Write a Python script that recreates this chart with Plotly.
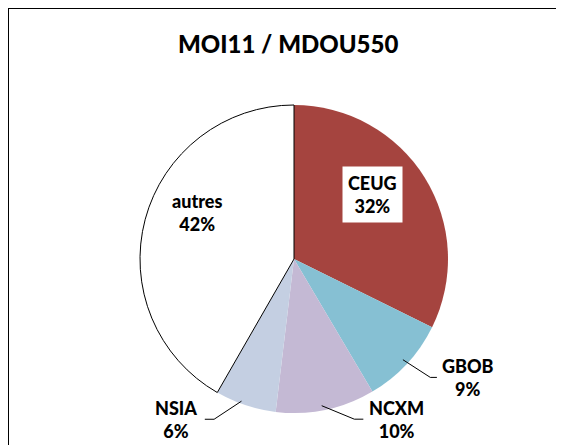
import math
import plotly.graph_objects as go

# ---- data ----
title_text = "MOI11 / MDOU550"
labels = ["CEUG", "GBOB", "NCXM", "NSIA", "autres"]
values = [32.3, 9.2, 10.4, 6.4, 41.7]
colors = ["#A5443F", "#86C0D3", "#C4B9D4", "#C4CFE2", "#FFFFFF"]

# ---- geometry (reference pixel coords; page body has an 8px margin) ----
OFF = 8
W, H = 564 - OFF, 445 - OFF
ML, MR, MT, MB = 140 - OFF, 124 - OFF, 105 - OFF, 40 - OFF
R = (W - ML - MR) / 2
CX, CY = 290, 255  # pie centre in reference pixels
FONT = "Lato"
FS = 18
WEIGHT = 900


def px(x):
    return (x - OFF - ML) / (W - ML - MR)


def py(y):
    return (H - MB - (y - OFF)) / (H - MT - MB)


def polar(angle_deg, rf):
    a = math.radians(angle_deg)
    return CX + R * rf * math.sin(a), CY - R * rf * math.cos(a)


# inside: (angle, radius factor, white box)
# outside: (elbow angle, elbow radius factor, horizontal segment, text-centre offset)
placement = {
    "CEUG": ("in", 53.6, 0.663, True),
    "GBOB": ("out", 131.1, 1.209, 6.6, 31),
    "NCXM": ("out", 158.6, 1.145, 9.0, 33.3),
    "NSIA": ("out", 204.8, 1.175, -9.3, -28.7),
    "autres": ("in", 294.3, 0.665, False),
}

total = sum(values)
fig = go.Figure(
    go.Pie(
        labels=labels,
        values=values,
        sort=False,
        direction="clockwise",
        rotation=0,
        marker=dict(
            colors=colors,
            line=dict(color=["rgba(0,0,0,0)"] * 4 + ["#000000"], width=[0, 0, 0, 0, 1]),
        ),
        textinfo="none",
        hoverinfo="label+percent",
        showlegend=False,
    )
)

annotations = []
shapes = []
cum = 0.0
for lab, v in zip(labels, values):
    start = cum / total * 360
    cum += v
    end = cum / total * 360
    mid = (start + end) / 2
    pct = round(v / total * 100)
    txt = f"{lab}<br>{pct}%"
    p = placement[lab]
    if p[0] == "in":
        _, ang, rf, box = p
        x, y = polar(ang, rf)
        annotations.append(dict(
            x=px(x), y=py(y), xref="paper", yref="paper", text=txt, showarrow=False,
            font=dict(family=FONT, size=FS, color="#000", weight=WEIGHT), align="center",
            bgcolor="#FFFFFF" if box else None, borderpad=5,
            xanchor="center", yanchor="middle",
        ))
    else:
        _, ang, rf, seg, toff = p
        x0, y0 = polar(mid, 1.0)
        x1, y1 = polar(ang, rf)
        x2 = x1 + seg
        shapes.append(dict(
            type="path", xref="paper", yref="paper",
            path=f"M {px(x0)},{py(y0)} L {px(x1)},{py(y1)} L {px(x2)},{py(y1)}",
            line=dict(color="#000", width=1),
        ))
        annotations.append(dict(
            x=px(x2 + toff), y=py(y1), xref="paper", yref="paper", text=txt,
            showarrow=False, font=dict(family=FONT, size=FS, color="#000", weight=WEIGHT),
            align="center", xanchor="center", yanchor="middle",
        ))

# title
annotations.append(dict(
    x=px(288), y=py(43), xref="paper", yref="paper", text=title_text,
    showarrow=False, font=dict(family=FONT, size=24, color="#000", weight=WEIGHT),
    xanchor="center", yanchor="middle",
))

# chart frame
shapes.append(dict(
    type="rect", xref="paper", yref="paper",
    x0=px(8), y0=py(470), x1=px(600), y1=py(8),
    line=dict(color="#000", width=2), fillcolor="rgba(0,0,0,0)", layer="below",
))

fig.update_layout(
    width=W, height=H, autosize=False,
    margin=dict(l=ML, r=MR, t=MT, b=MB, pad=0),
    paper_bgcolor="#FFFFFF", plot_bgcolor="#FFFFFF",
    annotations=annotations, shapes=shapes,
)
fig.write_html("out.html")
